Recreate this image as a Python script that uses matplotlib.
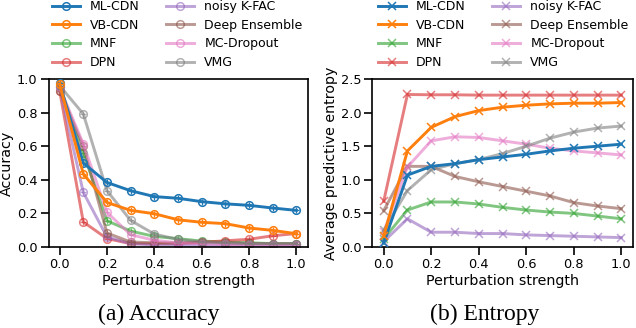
import numpy as np
import matplotlib
matplotlib.use("Agg")
import matplotlib.pyplot as plt

strength = [0.0, 0.1, 0.2, 0.3, 0.4, 0.5, 0.6, 0.7, 0.8, 0.9, 1.0]
methods = ["ML-CDN", "VB-CDN", "MNF", "DPN", "noisy K-FAC", "Deep Ensemble", "MC-Dropout", "VMG"]
colors = ["tab:blue", "tab:orange", "tab:green", "tab:red", "tab:purple", "tab:brown", "tab:pink", "tab:gray"]

# accuracy vs perturbation
acc_ml_cdn = [0.974, 0.50, 0.384, 0.335, 0.30, 0.29, 0.27, 0.257, 0.248, 0.232, 0.218]
acc_vb_cdn = [0.97, 0.435, 0.265, 0.218, 0.198, 0.162, 0.147, 0.139, 0.113, 0.099, 0.079]
acc_mnf = [0.96, 0.56, 0.156, 0.095, 0.063, 0.05, 0.035, 0.03, 0.025, 0.02, 0.02]
acc_dpn = [0.93, 0.149, 0.05, 0.02, 0.02, 0.02, 0.028, 0.037, 0.046, 0.067, 0.08]
acc_kfac = [0.95, 0.325, 0.06, 0.02, 0.012, 0.01, 0.01, 0.01, 0.01, 0.01, 0.01]
acc_ens = [0.93, 0.60, 0.083, 0.03, 0.025, 0.025, 0.03, 0.025, 0.022, 0.02, 0.02]
acc_mcd = [0.95, 0.614, 0.206, 0.073, 0.04, 0.025, 0.02, 0.015, 0.012, 0.01, 0.01]
acc_vmg = [0.96, 0.792, 0.335, 0.158, 0.077, 0.045, 0.03, 0.025, 0.02, 0.02, 0.02]

# average predictive entropy vs perturbation
ent_ml_cdn = [0.06, 1.07, 1.20, 1.24, 1.30, 1.34, 1.38, 1.43, 1.47, 1.50, 1.53]
ent_vb_cdn = [0.16, 1.43, 1.78, 1.94, 2.03, 2.08, 2.11, 2.13, 2.14, 2.14, 2.15]
ent_mnf = [0.12, 0.55, 0.67, 0.67, 0.64, 0.59, 0.55, 0.52, 0.50, 0.46, 0.42]
ent_dpn = [0.68, 2.27, 2.265, 2.265, 2.26, 2.26, 2.26, 2.26, 2.26, 2.26, 2.26]
ent_kfac = [0.08, 0.42, 0.22, 0.22, 0.20, 0.20, 0.18, 0.17, 0.16, 0.15, 0.14]
ent_ens = [0.54, 1.20, 1.20, 1.05, 0.97, 0.90, 0.83, 0.76, 0.66, 0.61, 0.57]
ent_mcd = [0.22, 1.19, 1.58, 1.64, 1.63, 1.58, 1.53, 1.47, 1.43, 1.40, 1.37]
ent_vmg = [0.25, 0.84, 1.15, 1.24, 1.30, 1.39, 1.50, 1.62, 1.71, 1.77, 1.80]

acc = [acc_ml_cdn, acc_vb_cdn, acc_mnf, acc_dpn, acc_kfac, acc_ens, acc_mcd, acc_vmg]
ent = [ent_ml_cdn, ent_vb_cdn, ent_mnf, ent_dpn, ent_kfac, ent_ens, ent_mcd, ent_vmg]

plt.rcParams["font.family"] = "DejaVu Sans"
fig = plt.figure(figsize=(6.36, 3.28), dpi=100)
ax1 = fig.add_axes([48.5 / 636, 81 / 328, 259 / 636, 168 / 328])
ax2 = fig.add_axes([372.5 / 636, 81 / 328, 260 / 636, 168 / 328])


def draw(ax, data, marker, ylim, yticks, ylabel, leg_x):
    for i in range(len(methods)):
        main = i < 2
        a = 1.0 if main else 0.6
        z = 3 if main else 2
        ax.plot(strength, data[i], color=colors[i], marker=marker,
                mfc="none", ms=5.5, mew=1.1, lw=2.1,
                alpha=a, zorder=z, label=methods[i])
        if marker == "o":
            # little cross inside the circles
            ax.plot(strength, data[i], color=colors[i], marker="+", ls="none",
                    ms=5, mew=0.9, alpha=a, zorder=z)
    ax.set_xlim(-0.047, 1.047)
    ax.set_ylim(*ylim)
    ax.set_xticks([0.0, 0.2, 0.4, 0.6, 0.8, 1.0])
    ax.set_yticks(yticks)
    ax.tick_params(direction="out", length=6, width=1.2, pad=2, labelsize=9.3)
    for s in ax.spines.values():
        s.set_linewidth(1.2)
    ax.set_xlabel("Perturbation strength", fontsize=10.3, labelpad=2)
    ax.set_ylabel(ylabel, fontsize=10.3, labelpad=2)
    ax.legend(loc="upper left", bbox_to_anchor=(leg_x, 1.0),
              bbox_transform=fig.transFigure, ncol=2,
              frameon=False, fontsize=9, handlelength=2.25, handletextpad=0.8,
              columnspacing=2.1, labelspacing=0.45, borderpad=0, borderaxespad=0)


draw(ax1, acc, "o", (0, 1.0), [0.0, 0.2, 0.4, 0.6, 0.8, 1.0], "Accuracy", 52 / 636)
draw(ax2, ent, "x", (0, 2.5), [0.0, 0.5, 1.0, 1.5, 2.0, 2.5],
     "Average predictive entropy", 378 / 636)

fig.text(0.249, 0.04, "(a) Accuracy", ha="center", va="center",
         family="Liberation Serif", fontsize=17)
fig.text(0.762, 0.04, "(b) Entropy", ha="center", va="center",
         family="Liberation Serif", fontsize=17)

fig.savefig("out.png", dpi=100)
